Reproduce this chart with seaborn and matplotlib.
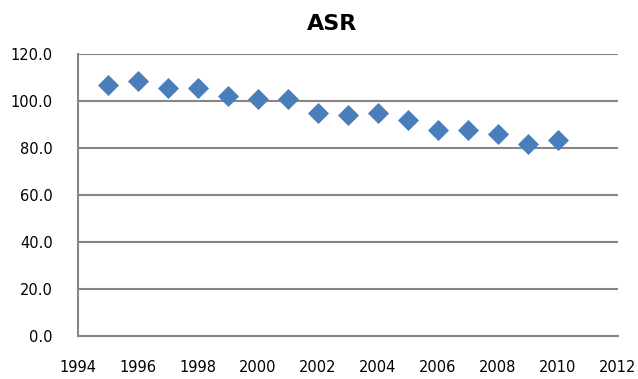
import matplotlib
matplotlib.use("Agg")
import matplotlib.pyplot as plt
import seaborn as sns
import pandas as pd

years = [1995, 1996, 1997, 1998, 1999, 2000, 2001, 2002, 2003, 2004, 2005, 2006, 2007, 2008, 2009, 2010]
asr = [106.7, 108.4, 105.5, 105.7, 102.0, 101.0, 100.9, 94.9, 94.2, 95.1, 92.0, 87.5, 87.5, 85.9, 81.8, 83.4]
x_ticks = list(range(1994, 2013, 2))
y_ticks = [0, 20, 40, 60, 80, 100, 120]

sns.set_style("white")
plt.rcParams['font.family'] = ['DejaVu Sans']

df = pd.DataFrame({"year": years, "ASR": asr})

fig = plt.figure(figsize=(6.38, 3.79), dpi=100)
ax = fig.add_axes([78/638, 1-336/379, 540/638, 282/379])

sns.scatterplot(data=df, x="year", y="ASR", marker="D", s=115, color="#4A7EBB",
                edgecolor="#4A7EBB", linewidth=0, ax=ax, zorder=3, legend=False)

ax.set_xlim(1994, 2012)
ax.set_ylim(0, 120)
ax.set_xticks(x_ticks)
ax.set_yticks(y_ticks)
ax.set_yticklabels([f"{v:.1f}" for v in y_ticks], fontsize=10.5, color="black")
ax.set_xticklabels([str(v) for v in x_ticks], fontsize=10.5, color="black")
ax.set_xlabel("")
ax.set_ylabel("")

gray = "#868686"
ax.grid(axis="y", color=gray, linewidth=1.5)
ax.grid(axis="x", visible=False)
ax.set_axisbelow(True)
for side in ["top", "right"]:
    ax.spines[side].set_visible(False)
for side in ["left", "bottom"]:
    ax.spines[side].set_color(gray)
    ax.spines[side].set_linewidth(1.5)

ax.tick_params(axis="x", direction="out", length=4, width=1.2, color=gray, pad=13)
ax.tick_params(axis="y", direction="out", length=4, width=1.2, color=gray, pad=14)

fig.text(332/638, 1-24/379, "ASR", ha="center", va="center", fontsize=16,
         fontweight="bold", color="black")

fig.savefig("out.png", dpi=100)
